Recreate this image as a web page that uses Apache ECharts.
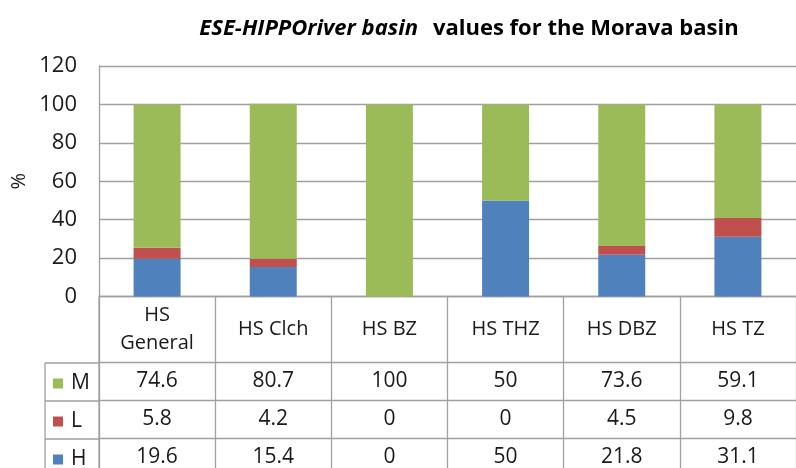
<!DOCTYPE html>
<html>
<head>
<meta charset="utf-8">
<script src="https://cdn.jsdelivr.net/npm/echarts@6/dist/echarts.min.js"></script>
<style>
  html, body { margin: 0; padding: 0; background: #fff; }
  #chart { width: 796px; height: 468px; }
</style>
</head>
<body>
<div id="chart"></div>
<script>
// 数据
var categories = ['HS\nGeneral', 'HS Clch', 'HS BZ', 'HS THZ', 'HS DBZ', 'HS TZ'];
var mValues = [74.6, 80.7, 100, 50, 73.6, 59.1];
var lValues = [5.8, 4.2, 0, 0, 4.5, 9.8];
var hValues = [19.6, 15.4, 0, 50, 21.8, 31.1];
var yTicks = [0, 20, 40, 60, 80, 100, 120];

var FONT = 'Open Sans';
var lineCol = '#a0a0a0';
var textCol = '#1a1a1a';

// 表格行（底部轴），每行一个图例
var rows = [
  { name: 'M', vals: mValues, offset: 66 },
  { name: 'L', vals: lValues, offset: 104 },
  { name: 'H', vals: hValues, offset: 142 }
];

var xAxes = [{
  type: 'category',
  data: categories,
  position: 'bottom',
  axisLine: { lineStyle: { color: lineCol, width: 1.3 } },
  axisTick: { show: true, length: 66, interval: 0, lineStyle: { color: lineCol, width: 1.3 } },
  axisLabel: {
    interval: 0, margin: 33, verticalAlign: 'middle',
    fontFamily: FONT, fontSize: 20, lineHeight: 28, color: textCol
  }
}];
var legends = [];
rows.forEach(function (r) {
  xAxes.push({
    type: 'category',
    data: categories,
    position: 'bottom',
    offset: r.offset,
    axisLine: { lineStyle: { color: lineCol, width: 1.3 } },
    axisTick: { show: true, length: 38, interval: 0, lineStyle: { color: lineCol, width: 1.3 } },
    axisLabel: {
      interval: 0, margin: 19, verticalAlign: 'middle',
      fontFamily: FONT, fontSize: 21, color: textCol,
      formatter: function (v, i) { return String(r.vals[i]); }
    }
  });
  legends.push({
    data: [r.name],
    left: 53, top: 297 + r.offset + 10, padding: 0,
    icon: 'rect', itemWidth: 10, itemHeight: 10,
    textStyle: { fontFamily: FONT, fontSize: 21, color: textCol, padding: [0, 0, 0, 3] }
  });
});

var colors = { M: '#9bbb59', L: '#c0504d', H: '#4f81bd' };

var option = {
  animation: false,
  backgroundColor: '#fff',
  title: {
    left: 464, top: 13, textAlign: 'center',
    text: '{a|ESE-HIPPOriver basin}   {b|values for the Morava basin}',
    textStyle: {
      rich: {
        a: { fontFamily: FONT, fontSize: 22, fontWeight: 'bold', fontStyle: 'italic', color: '#000' },
        b: { fontFamily: FONT, fontSize: 22, fontWeight: 'bold', color: '#000' }
      }
    }
  },
  legend: legends,
  grid: { left: 99, top: 66, width: 711, height: 231 },
  xAxis: xAxes,
  yAxis: {
    type: 'value',
    min: yTicks[0], max: yTicks[yTicks.length - 1], interval: 20,
    name: '%', nameLocation: 'middle', nameGap: 70, nameRotate: 90, nameMoveOverlap: false,
    nameTextStyle: { fontFamily: FONT, fontSize: 20, color: textCol },
    axisLine: { show: true, lineStyle: { color: lineCol, width: 1.3 } },
    axisTick: { show: false },
    axisLabel: { margin: 22, fontFamily: FONT, fontSize: 22, color: textCol },
    splitLine: { lineStyle: { color: lineCol, width: 1.3 } }
  },
  // 图例列的表格边框
  graphic: [
    { type: 'line', shape: { x1: 45, y1: 363, x2: 45, y2: 468 }, style: { stroke: lineCol, lineWidth: 1.3 } },
    { type: 'line', shape: { x1: 45, y1: 363, x2: 99, y2: 363 }, style: { stroke: lineCol, lineWidth: 1.3 } },
    { type: 'line', shape: { x1: 45, y1: 401, x2: 99, y2: 401 }, style: { stroke: lineCol, lineWidth: 1.3 } },
    { type: 'line', shape: { x1: 45, y1: 439, x2: 99, y2: 439 }, style: { stroke: lineCol, lineWidth: 1.3 } },
    { type: 'line', shape: { x1: 99, y1: 297, x2: 99, y2: 468 }, style: { stroke: lineCol, lineWidth: 1.3 } }
  ],
  series: [
    { name: 'H', type: 'bar', stack: 'total', barWidth: 47, data: hValues, itemStyle: { color: colors.H } },
    { name: 'L', type: 'bar', stack: 'total', barWidth: 47, data: lValues, itemStyle: { color: colors.L } },
    { name: 'M', type: 'bar', stack: 'total', barWidth: 47, data: mValues, itemStyle: { color: colors.M } }
  ]
};

var chart = echarts.init(document.getElementById('chart'));
chart.setOption(option);
</script>
</body>
</html>
